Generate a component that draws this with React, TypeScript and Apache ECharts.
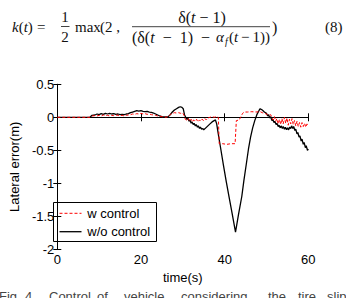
import React, { useEffect, useRef } from "react";
import * as echarts from "echarts";

// Lateral error over time, with and without the slip-aware controller
const withControl: [number, number][] = [
  [0, 0], [7.8, 0], [8.3, 0.02], [9, 0.025], [9.5, 0.02], [10, 0.03], [10.5, 0.02], [11, 0.035],
  [11.5, 0.025], [12, 0.03], [12.5, 0.02], [13, 0.03], [13.5, 0.025], [14, 0.035], [14.5, 0.03],
  [15, 0.025], [15.5, 0.03], [16, 0.02], [16.5, 0.03], [17, 0.035], [17.5, 0.04], [18, 0.05],
  [18.5, 0.045], [19, 0.055], [19.5, 0.05], [20, 0.06], [20.5, 0.05], [21, 0.055], [21.5, 0.045],
  [22, 0.05], [22.5, 0.04], [23, 0.035], [23.5, 0.03], [24, 0.02], [24.5, 0.015], [25, 0.01],
  [25.5, 0.005], [26, 0.0], [26.5, 0.01], [27, 0.04], [27.5, 0.06], [28, 0.07], [28.5, 0.065],
  [29, 0.07], [29.5, 0.06], [30, 0.065], [30.3, 0.03], [30.6, -0.03], [31, -0.05], [31.3, -0.02],
  [31.6, -0.06], [32, -0.03], [32.3, -0.07], [32.6, -0.04], [33, -0.06], [33.3, -0.03], [33.6, -0.07],
  [34, -0.04], [34.3, -0.06], [34.6, -0.03], [35, -0.05], [35.3, -0.02], [35.6, -0.04], [36, -0.01],
  [36.5, 0.0], [37, 0.01], [37.5, 0.0], [38, 0.01], [38.5, 0.0], [38.7, -0.4], [39.5, -0.4],
  [40.5, -0.41], [41.5, -0.4], [42.5, -0.4], [42.8, -0.05], [43.5, -0.04], [43.8, 0.0], [44.3, 0.06],
  [44.7, 0.08], [45.5, 0.08], [46.5, 0.085], [47.5, 0.08], [48.5, 0.085], [49, 0.07], [49.5, 0.06],
  [50, 0.05], [50.5, 0.03], [51, 0.04], [51.3, 0.0], [51.6, -0.04], [51.9, 0.01], [52.2, -0.06],
  [52.5, -0.02], [52.8, -0.1], [53.1, -0.03], [53.4, -0.11], [53.7, -0.02], [54, -0.1], [54.3, 0.0],
  [54.6, -0.09], [54.9, -0.01], [55.2, -0.12], [55.5, -0.03], [55.8, -0.1], [56.1, -0.02],
  [56.4, -0.11], [56.7, -0.05], [57, -0.13], [57.3, -0.06], [57.6, -0.14], [57.9, -0.08],
  [58.2, -0.15], [58.5, -0.08], [58.8, -0.14], [59.1, -0.09], [59.4, -0.15], [59.7, -0.1], [60, -0.13],
];

const withoutControl: [number, number][] = [
  [0, 0], [7.8, 0], [8.3, 0.03], [9, 0.035], [9.5, 0.05], [10, 0.04], [10.5, 0.055], [11, 0.045],
  [11.5, 0.06], [12, 0.05], [12.5, 0.06], [13, 0.05], [13.5, 0.055], [14, 0.045], [14.5, 0.05],
  [15, 0.04], [15.5, 0.045], [16, 0.04], [16.5, 0.05], [17, 0.055], [17.5, 0.07], [18, 0.08],
  [18.5, 0.09], [19, 0.1], [19.5, 0.095], [20, 0.1], [20.5, 0.09], [21, 0.085], [21.5, 0.09],
  [22, 0.08], [22.5, 0.075], [23, 0.065], [23.5, 0.05], [24, 0.035], [24.5, 0.02], [25, 0.01],
  [25.5, 0.005], [26, 0.005], [26.5, 0.01], [27, 0.04], [27.5, 0.08], [28, 0.11], [28.5, 0.13],
  [29, 0.15], [29.4, 0.16], [29.8, 0.15], [30.1, 0.13], [30.4, 0.04], [30.7, 0.0], [31, -0.03],
  [31.2, -0.01], [31.5, -0.06], [31.7, -0.04], [32, -0.09], [32.2, -0.07], [32.5, -0.11],
  [32.7, -0.09], [33, -0.13], [33.2, -0.11], [33.5, -0.15], [33.7, -0.13], [34, -0.17],
  [34.2, -0.15], [34.5, -0.18], [34.8, -0.17], [35, -0.19], [35.5, -0.16], [36, -0.13],
  [36.5, -0.1], [37, -0.07], [37.5, -0.05], [37.8, -0.04], [38.1, -0.1], [38.4, -0.22],
  [39, -0.45], [39.7, -0.72], [40.4, -0.98], [41.1, -1.22], [41.8, -1.46], [42.6, -1.74],
  [43.3, -1.48], [44.1, -1.2], [44.6, -0.96], [45.2, -0.7], [45.7, -0.48], [46.2, -0.3],
  [46.7, -0.16], [47.2, -0.05], [47.7, 0.04], [48.2, 0.1], [48.5, 0.13], [49, 0.11], [49.5, 0.08],
  [50, 0.06], [50.3, 0.02], [50.5, 0.04], [50.8, -0.01], [51, 0.01], [51.3, -0.05], [51.5, -0.03],
  [51.8, -0.08], [52, -0.06], [52.3, -0.11], [52.5, -0.09], [52.8, -0.14], [53, -0.12],
  [53.3, -0.16], [53.5, -0.13], [53.8, -0.17], [54, -0.14], [54.3, -0.18], [54.5, -0.15],
  [54.8, -0.19], [55, -0.16], [55.3, -0.19], [55.5, -0.15], [55.8, -0.17], [56, -0.13],
  [56.3, -0.17], [56.5, -0.14], [56.8, -0.2], [57, -0.18], [57.3, -0.25], [57.5, -0.23],
  [57.8, -0.3], [58, -0.28], [58.3, -0.36], [58.5, -0.33], [58.8, -0.41], [59, -0.38],
  [59.3, -0.46], [59.5, -0.43], [59.8, -0.5], [60, -0.48],
];

const seriesNames = ["w control", "w/o control"];
const seriesColors = ["#ff0000", "#000000"];
const timeRange = { min: 0, max: 60, interval: 20 };
const errorRange = { min: -2, max: 0.5, interval: 0.5 };

const captionWords: [string, number][] = [
  ["Fig.", -1], ["4", 25], ["Control", 49], ["of", 97], ["vehicle", 124],
  ["considering", 181], ["the", 268], ["tire", 298], ["slip", 327],
];

const SERIF = '"Liberation Serif", "DejaVu Serif", serif';
const SANS = '"Liberation Sans", Arial, sans-serif';
const INK = "#111";
const THIN = "\u2009";

function txt(text: string, x: number, y: number, opts: any = {}) {
  return {
    type: "text",
    x,
    y,
    silent: true,
    style: {
      text,
      fill: opts.fill || INK,
      font: opts.font || `15px ${SERIF}`,
      align: opts.align || "left",
      verticalAlign: opts.verticalAlign || "middle",
    },
  };
}

// mixed upright / italic math text
function mathTxt(text: string, x: number, y: number, size: number, align = "left") {
  return {
    type: "text",
    x,
    y,
    silent: true,
    style: {
      text,
      align,
      verticalAlign: "middle",
      rich: {
        i: { font: `italic ${size}px ${SERIF}`, fill: INK },
        r: { font: `${size}px ${SERIF}`, fill: INK },
      },
    },
  };
}

function hline(x1: number, x2: number, y: number, stroke = INK, lineWidth = 0.8, lineDash?: number[]) {
  return {
    type: "line",
    silent: true,
    shape: { x1, y1: y, x2, y2: y },
    style: { stroke, lineWidth, lineDash },
  };
}

export default function App() {
  const ref = useRef<HTMLDivElement>(null);

  useEffect(() => {
    if (!ref.current) return;
    const chart = echarts.init(ref.current, null, { renderer: "svg" });

    const axisLine = { show: true, lineStyle: { color: "#000", width: 1 } };
    const tickInside = { show: true, inside: true, length: 4, lineStyle: { color: "#000" } };
    const labelStyle = { color: "#000", fontSize: 13, fontFamily: SANS };

    const equation = [
      mathTxt("{i|k}{r|(}{i|t}{r|)}", 12, 27, 15),
      txt("=", 37, 27),
      txt("1", 65, 17, { align: "center" }),
      hline(61, 69.5, 26.5),
      txt("2", 65, 37, { align: "center" }),
      txt("max", 75, 27),
      txt("(2 ,", 100, 27),
      mathTxt("{r|δ(}{i|t}{r| − 1)}", 202, 17, 16, "center"),
      hline(132, 270, 26.7),
      mathTxt("{r|(δ(}{i|t}{r|  −  1)  −}", 132, 37, 16),
      mathTxt("{i|α}", 216, 37, 15),
      txt("f", 225, 41, { font: `italic 10px ${SERIF}` }),
      mathTxt(`{r|(}{i|t}{r|${THIN}−${THIN}1))}`, 270, 37, 15, "right"),
      txt(")", 272, 27, { font: `16px ${SERIF}` }),
      txt("(8)", 325, 27),
    ];

    // boxed legend in the lower-left corner of the axes
    const legendBox = {
      type: "group",
      silent: true,
      children: [
        {
          type: "rect",
          shape: { x: 53.5, y: 202.5, width: 103, height: 39 },
          style: { fill: "#fff", stroke: "#000", lineWidth: 1 },
        },
        hline(59.5, 81.5, 213.3, seriesColors[0], 1, [3, 2]),
        txt(seriesNames[0], 87.3, 213.3, { font: `13px ${SANS}`, fill: "#000" }),
        hline(59.5, 81.5, 231.7, seriesColors[1], 1.3),
        txt(seriesNames[1], 87.3, 231.7, { font: `13px ${SANS}`, fill: "#000" }),
      ],
    };

    const caption = captionWords.map(([w, x]) =>
      txt(w, x, 290, { font: `13px ${SANS}`, fill: "#444", verticalAlign: "top" })
    );

    chart.setOption({
      animation: false,
      backgroundColor: "#fff",
      grid: { left: 47.3, top: 84.3, width: 261, height: 165, containLabel: false },
      xAxis: [
        {
          type: "value",
          position: "bottom",
          ...timeRange,
          name: "time(s)",
          nameLocation: "middle",
          nameGap: 20,
          nameTextStyle: { ...labelStyle, verticalAlign: "top" },
          axisLine,
          axisTick: tickInside,
          axisLabel: { ...labelStyle, margin: 4 },
          splitLine: { show: false },
        },
        {
          type: "value",
          position: "top",
          ...timeRange,
          axisLine,
          axisTick: tickInside,
          axisLabel: { show: false },
          splitLine: { show: false },
        },
      ],
      yAxis: [
        {
          type: "value",
          position: "left",
          ...errorRange,
          name: "Lateral error(m)",
          nameLocation: "middle",
          nameGap: 32,
          nameTextStyle: { ...labelStyle },
          axisLine,
          axisTick: tickInside,
          axisLabel: { ...labelStyle, margin: 3 },
          splitLine: { show: false },
        },
        {
          type: "value",
          position: "right",
          ...errorRange,
          axisLine,
          axisTick: tickInside,
          axisLabel: { show: false },
          splitLine: { show: false },
        },
      ],
      series: [
        {
          name: seriesNames[0],
          type: "line",
          data: withControl,
          xAxisIndex: 0,
          yAxisIndex: 0,
          symbol: "none",
          z: 3,
          lineStyle: { color: seriesColors[0], width: 1, type: [3, 2] },
        },
        {
          name: seriesNames[1],
          type: "line",
          data: withoutControl,
          xAxisIndex: 0,
          yAxisIndex: 0,
          symbol: "none",
          z: 2,
          lineStyle: { color: seriesColors[1], width: 1.3 },
        },
      ],
      graphic: [...equation, legendBox, ...caption],
    });

    return () => chart.dispose();
  }, []);

  return (
    <div
      ref={ref}
      style={{ position: "absolute", left: 0, top: 0, width: 346, height: 298 }}
    />
  );
}
